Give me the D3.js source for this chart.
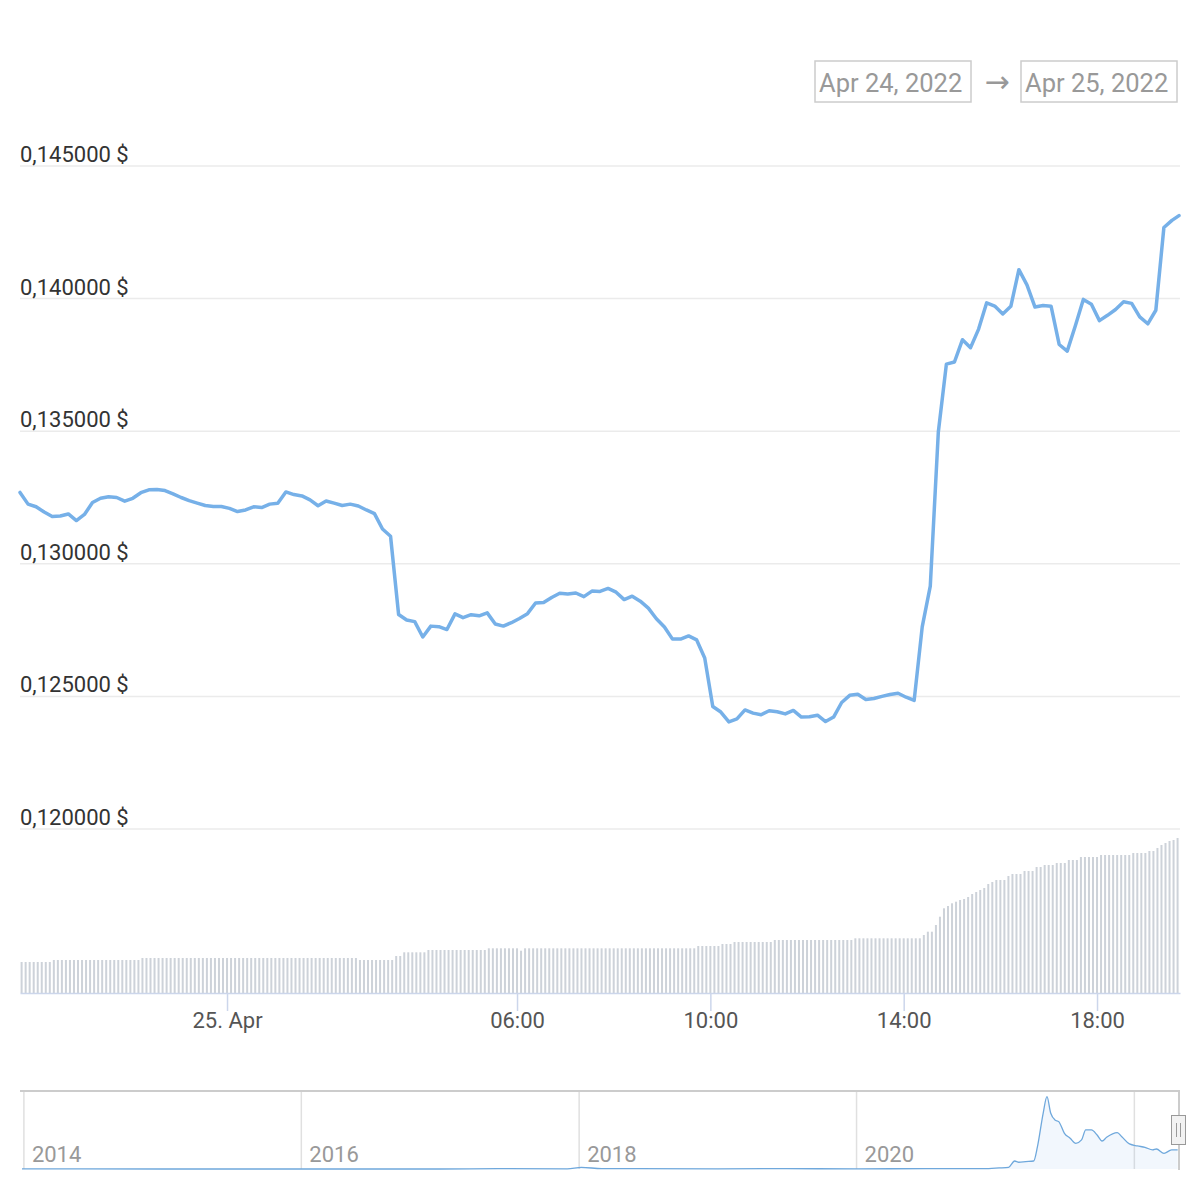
<!DOCTYPE html>
<html><head><meta charset="utf-8">
<script src="https://cdn.jsdelivr.net/npm/d3@7"></script>
<style>body{margin:0;background:#fff;} svg{display:block;font-family:Roboto, "Noto Sans", sans-serif;}</style>
</head><body><svg id="c" width="1200" height="1200"></svg>
<script>
// ---------- data ----------
const priceStart = new Date(2022, 3, 24, 19, 43); // 10-minute steps
const prices = [
0.13269,0.13225,0.13215,0.13195,0.13178,0.13180,0.13188,0.13163,0.13186,0.13231,
0.13247,0.13253,0.13250,0.13236,0.13247,0.13268,0.13279,0.13280,0.13276,0.13264,
0.13250,0.13238,0.13229,0.13220,0.13216,0.13216,0.13209,0.13197,0.13203,0.13215,
0.13212,0.13225,0.13228,0.13271,0.13261,0.13256,0.13241,0.13219,0.13237,0.13229,
0.13220,0.13225,0.13218,0.13203,0.13189,0.13131,0.13104,0.12809,0.12788,0.12782,
0.12724,0.12765,0.12763,0.12752,0.12811,0.12797,0.12808,0.12804,0.12815,0.12773,
0.12765,0.12778,0.12794,0.12812,0.12852,0.12854,0.12873,0.12889,0.12886,0.12890,
0.12876,0.12897,0.12896,0.12907,0.12893,0.12865,0.12878,0.12859,0.12833,0.12793,
0.12762,0.12716,0.12716,0.12728,0.12713,0.12645,0.12462,0.12441,0.12404,0.12415,
0.12449,0.12437,0.12431,0.12446,0.12442,0.12434,0.12447,0.12422,0.12423,0.12429,
0.12405,0.12422,0.12477,0.12504,0.12508,0.12488,0.12492,0.12500,0.12507,0.12512,
0.12497,0.12485,0.12762,0.12916,0.13497,0.13753,0.13761,0.13845,0.13815,0.13885,
0.13984,0.13972,0.13942,0.13971,0.14109,0.14052,0.13968,0.13974,0.13971,0.13827,
0.13802,0.13897,0.13997,0.13979,0.13917,0.13937,0.13959,0.13988,0.13982,0.13931,
0.13905,0.13956,0.14268,0.14295,0.14313
];
const volStart = new Date(2022, 3, 24, 19, 45); // 5-minute steps (24h volume, arbitrary units)
const volumes = [
3.1,3.1,3.1,3.1,3.1,3.1,3.1,3.1,
3.3,3.3,3.3,3.3,3.3,3.3,3.3,3.3,3.3,3.3,3.3,3.3,3.3,3.3,3.3,3.3,3.3,3.3,3.3,3.3,3.3,3.3,
3.5,3.5,3.5,3.5,3.5,3.5,3.5,3.5,3.5,3.5,3.5,3.5,3.5,3.5,3.5,3.5,3.5,3.5,3.5,3.5,3.5,3.5,3.5,3.5,3.5,3.5,3.5,
3.5,3.5,3.5,3.5,3.5,3.5,3.5,3.5,3.5,3.5,3.5,3.5,3.5,3.5,3.5,3.5,3.5,3.5,3.5,3.5,3.5,3.5,3.5,3.5,3.5,3.5,3.5,
3.3,3.3,3.3,3.3,3.3,3.3,3.3,3.3,3.3,
3.7,3.7,
4.07,4.07,4.07,4.07,4.07,4.07,
4.3,4.3,4.3,4.3,4.3,4.3,4.3,4.3,4.3,4.3,4.3,4.3,4.3,4.3,4.3,
4.47,4.47,4.47,4.47,4.47,4.47,4.47,4.47,
4.23,
4.47,4.47,4.47,4.47,4.47,4.47,4.47,4.47,4.47,4.47,4.47,4.47,4.47,4.47,4.47,4.47,4.47,4.47,4.47,4.47,4.47,
4.47,4.47,4.47,4.47,4.47,4.47,4.47,4.47,4.47,4.47,4.47,4.47,4.47,4.47,4.47,4.47,4.47,4.47,4.47,4.47,4.47,4.47,
4.7,4.7,4.7,4.7,4.7,4.7,
4.9,4.9,4.9,
5.1,5.1,5.1,5.1,5.1,5.1,5.1,5.1,5.1,5.1,
5.3,5.3,5.3,5.3,5.3,5.3,5.3,5.3,5.3,5.3,5.3,5.3,5.3,5.3,5.3,5.3,5.3,5.3,5.3,5.3,
5.47,5.47,5.47,5.47,5.47,5.47,5.47,5.47,5.47,5.47,5.47,5.47,5.47,5.47,5.47,5.47,5.47,
5.8,6.13,6.13,6.8,7.63,8.47,8.7,8.97,9.13,9.3,9.4,9.6,9.9,10.1,10.3,10.5,10.9,11.1,
11.3,11.3,11.3,11.7,11.9,11.9,11.9,12.2,12.2,12.2,12.6,12.6,12.8,12.8,12.8,13.0,13.0,13.0,
13.3,13.3,13.3,13.6,13.6,13.6,13.6,13.6,13.8,13.8,13.8,13.8,13.8,13.8,13.8,13.8,
14.0,14.0,14.0,14.0,14.2,14.2,14.5,14.8,15.0,15.2,15.3,15.5
];
const yTicks = [0.120, 0.125, 0.130, 0.135, 0.140, 0.145];
const xTickHours = [0, 6, 10, 14, 18]; // on 25 Apr 2022
const xTickLabels = ["25. Apr", "06:00", "10:00", "14:00", "18:00"];
const rangeLabels = ["Apr 24, 2022", "Apr 25, 2022"];
const navDates = ["2013-12-27","2014-01-15","2014-06-01","2015-01-01","2016-01-01","2017-01-01","2017-06-01",
  "2017-12-01","2018-01-07","2018-03-01","2018-06-01","2019-01-01","2019-07-01","2020-01-01","2020-07-01",
  "2020-12-01","2021-01-10","2021-02-04","2021-02-20","2021-03-03","2021-03-21","2021-04-11","2021-04-21",
  "2021-05-06","2021-05-16","2021-05-26","2021-06-06","2021-06-16","2021-07-01","2021-07-16","2021-07-31",
  "2021-08-15","2021-08-26","2021-09-10","2021-09-25","2021-10-08","2021-10-20","2021-11-17","2021-11-29",
  "2021-12-19","2022-01-09","2022-01-29","2022-02-18","2022-02-28","2022-03-20","2022-04-09","2022-04-25"];
const navPrices = [0.0005,0.0015,0.0004,0.0002,0.00015,0.0002,0.003,
  0.002,0.015,0.004,0.003,0.002,0.003,0.002,0.003,
  0.003,0.01,0.016,0.076,0.064,0.07,0.076,0.212,
  0.529,0.687,0.529,0.466,0.45,0.339,0.292,0.244,
  0.276,0.371,0.371,0.323,0.266,0.301,0.345,0.307,
  0.238,0.219,0.206,0.181,0.19,0.149,0.181,0.181];
const navYearDates = ["2014-01-01","2016-01-01","2018-01-01","2020-01-01","2022-01-01"];
const navYearLabels = ["2014","2016","2018","2020",""];

// ---------- drawing ----------
const svg = d3.select("#c");
const MIN = 60000;
const x = d3.scaleTime()
  .domain([new Date(2022,3,24,19,43), new Date(2022,3,25,19,43)])
  .range([20, 1180]);
const y = d3.scaleLinear().domain([0.120, 0.145]).range([829, 166]);
const yVol = d3.scaleLinear().domain([0, 16.4]).range([993, 829]);

// range selector boxes
const boxes = [{x: 815, t: rangeLabels[0]}, {x: 1021, t: rangeLabels[1]}];
boxes.forEach(b => {
  svg.append("rect").attr("x", b.x).attr("y", 61).attr("width", 156).attr("height", 41)
    .attr("fill", "#fff").attr("stroke", "#cccccc").attr("stroke-width", 1.5);
  svg.append("text").attr("x", b.x + 4).attr("y", 92).attr("font-size", 25.5)
    .attr("fill", "#999").text(b.t);
});
svg.append("text").attr("x", 997).attr("y", 92).attr("text-anchor", "middle")
  .attr("font-size", 30).attr("font-family", "DejaVu Sans").attr("fill", "#999").text("→");

// gridlines + y labels
const fmt = v => d3.format(".6f")(v).replace(".", ",") + " $";
yTicks.forEach(v => {
  svg.append("line").attr("x1", 20).attr("x2", 1180).attr("y1", y(v)).attr("y2", y(v))
    .attr("stroke", "#ebebeb").attr("stroke-width", 1.5);
  svg.append("text").attr("x", 20).attr("y", y(v) - 4).attr("font-size", 22)
    .attr("fill", "#333").text(fmt(v));
});

// volume bars
const vg = svg.append("g");
vg.selectAll("rect").data(volumes).join("rect")
  .attr("x", (d, i) => x(new Date(+volStart + i * 5 * MIN)) - 1)
  .attr("width", 2)
  .attr("y", d => yVol(d))
  .attr("height", d => yVol(0) - yVol(d))
  .attr("fill", "#cdd2d9");

// x axis
const xTickTimes = xTickHours.map(h => new Date(2022, 3, 25, h, 0));
const xAxis = d3.axisBottom(x).tickValues(xTickTimes)
  .tickFormat((d, i) => xTickLabels[i]).tickSize(18).tickSizeOuter(0).tickPadding(2);
const ax = svg.append("g").attr("transform", "translate(0,993)").call(xAxis);
ax.select(".domain").attr("stroke", "#ccd6eb").attr("stroke-width", 1.5);
ax.selectAll(".tick line").attr("stroke", "#ccd6eb").attr("stroke-width", 1.5);
ax.selectAll(".tick text").attr("font-size", 22).attr("fill", "#555")
  .attr("font-family", "Roboto").attr("dy", "0.71em").attr("y", 19);

// price line
const line = d3.line()
  .x((d, i) => Math.min(1179, x(new Date(+priceStart + i * 10 * MIN))))
  .y(d => y(d));
svg.append("path").datum(prices).attr("d", line)
  .attr("fill", "none").attr("stroke", "#76b0e8").attr("stroke-width", 3.5)
  .attr("stroke-linejoin", "round").attr("stroke-linecap", "round");

// navigator
const parse = d3.timeParse("%Y-%m-%d");
const nx = d3.scaleTime().domain([parse("2013-12-27"), new Date(2022,3,25,19,43)]).range([22, 1178]);
const ny = d3.scaleLinear().domain([0, 0.7]).range([1169, 1095.3]);
const navData = navDates.map((d, i) => ({t: parse(d), v: navPrices[i]}));

navYearDates.forEach((d, i) => {
  const xx = nx(parse(d));
  svg.append("line").attr("x1", xx).attr("x2", xx).attr("y1", 1091).attr("y2", 1169)
    .attr("stroke", "#e0e0e0").attr("stroke-width", 1.5);
  if (navYearLabels[i]) svg.append("text").attr("x", xx + 8).attr("y", 1162)
    .attr("font-size", 22).attr("fill", "#999").text(navYearLabels[i]);
});
svg.append("path").datum(navData)
  .attr("d", d3.area().x(d => nx(d.t)).y0(1169).y1(d => ny(d.v)).curve(d3.curveMonotoneX))
  .attr("fill", "#7cb5ec").attr("fill-opacity", 0.1);
svg.append("path").datum(navData)
  .attr("d", d3.line().x(d => nx(d.t)).y(d => ny(d.v)).curve(d3.curveMonotoneX))
  .attr("fill", "none").attr("stroke", "#6fa8dc").attr("stroke-width", 1.3);
// outline
svg.append("path").attr("d", "M20,1091 L1179,1091 L1179,1170")
  .attr("fill", "none").attr("stroke", "#cccccc").attr("stroke-width", 2);
// handle
svg.append("rect").attr("x", 1171.5).attr("y", 1115.5).attr("width", 14).attr("height", 29)
  .attr("fill", "#f2f2f2").attr("stroke", "#999").attr("stroke-width", 1);
[1176.5, 1180.5].forEach(xx => svg.append("line").attr("x1", xx).attr("x2", xx)
  .attr("y1", 1123).attr("y2", 1137).attr("stroke", "#999").attr("stroke-width", 1));
</script></body></html>
